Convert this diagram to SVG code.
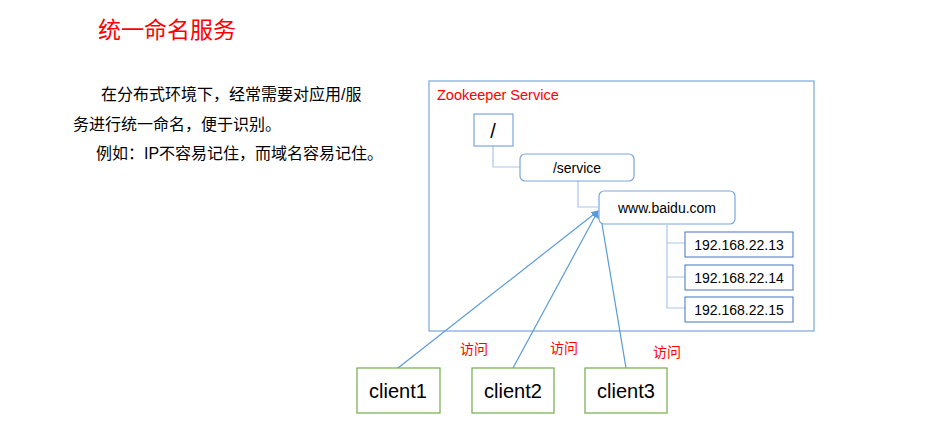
<svg xmlns="http://www.w3.org/2000/svg" width="938" height="432" viewBox="0 0 938 432">
<style>
.cn{font-family:"Liberation Sans","Noto Sans CJK SC",sans-serif}
.t{font-family:"Liberation Sans",sans-serif;fill:#000;text-anchor:middle}
.n{fill:#fff;stroke:#7aa6dc;stroke-width:1.2}
.ip{fill:#fff;stroke:#4472c4;stroke-width:1}
.c{fill:#fff;stroke:#70ad47;stroke-width:1.2}
.tree{fill:none;stroke:#a9c7ea;stroke-width:1.2}
.ln{stroke:#5b9bd5;stroke-width:1.2;fill:none}
</style>
<defs><marker id="a" viewBox="0 0 10 10" refX="9" refY="5" markerWidth="6" markerHeight="6" orient="auto"><path d="M0,0L10,5L0,10z" fill="#5b9bd5"/></marker></defs>
<rect width="938" height="432" fill="#fff"/>
<text class="cn" x="98" y="38" font-size="23" fill="#ff0000">统一命名服务</text>
<g class="cn" font-size="16" fill="#000">
<text x="101" y="100">在分布式环境下，经常需要对应用/服</text>
<text x="73" y="130">务进行统一命名，便于识别。</text>
<text x="96" y="159">例如：IP不容易记住，而域名容易记住。</text>
</g>
<g id="zk"><rect x="429" y="81" width="385" height="250" fill="none" stroke="#7aa6dc" stroke-width="1.2"/>
<text x="437" y="100" font-family="Liberation Sans,sans-serif" font-size="14.5" fill="#ff0000">Zookeeper Service</text></g>
<g id="connectors">
<path class="tree" d="M493,146V167H520M578,181V207H598M667,225V308H685M667,243H685M667,277H685"/>
<line class="ln" x1="398" y1="368" x2="598" y2="211" marker-end="url(#a)"/>
<line class="ln" x1="513" y1="368" x2="598" y2="211" marker-end="url(#a)"/>
<line class="ln" x1="626" y1="368" x2="600" y2="212" marker-end="url(#a)"/>
</g>
<g id="root"><rect class="n" x="474" y="114" width="39" height="32"/><text class="t" x="493" y="138" font-size="20">/</text></g>
<g id="service"><rect class="n" x="520" y="154" width="114" height="27" rx="5"/><text class="t" x="577" y="173" font-size="14">/service</text></g>
<g id="baidu"><rect class="n" x="599" y="191" width="136" height="33" rx="5"/><text class="t" x="667" y="213" font-size="14">www.baidu.com</text></g>
<g id="ip13"><rect class="ip" x="685" y="232" width="108" height="25"/><text class="t" x="739" y="250" font-size="14">192.168.22.13</text></g>
<g id="ip14"><rect class="ip" x="685" y="265" width="108" height="25"/><text class="t" x="739" y="283" font-size="14">192.168.22.14</text></g>
<g id="ip15"><rect class="ip" x="685" y="297" width="108" height="25"/><text class="t" x="739" y="315" font-size="14">192.168.22.15</text></g>
<g class="cn" font-size="14" fill="#ff0000"><text x="460" y="354">访问</text><text x="550" y="353">访问</text><text x="653" y="357">访问</text></g>
<g id="client1"><rect class="c" x="357" y="368" width="83" height="45"/><text class="t" x="398" y="398" font-size="20">client1</text></g>
<g id="client2"><rect class="c" x="472" y="368" width="82" height="45"/><text class="t" x="513" y="398" font-size="20">client2</text></g>
<g id="client3"><rect class="c" x="585" y="368" width="82" height="45"/><text class="t" x="626" y="398" font-size="20">client3</text></g>
</svg>
